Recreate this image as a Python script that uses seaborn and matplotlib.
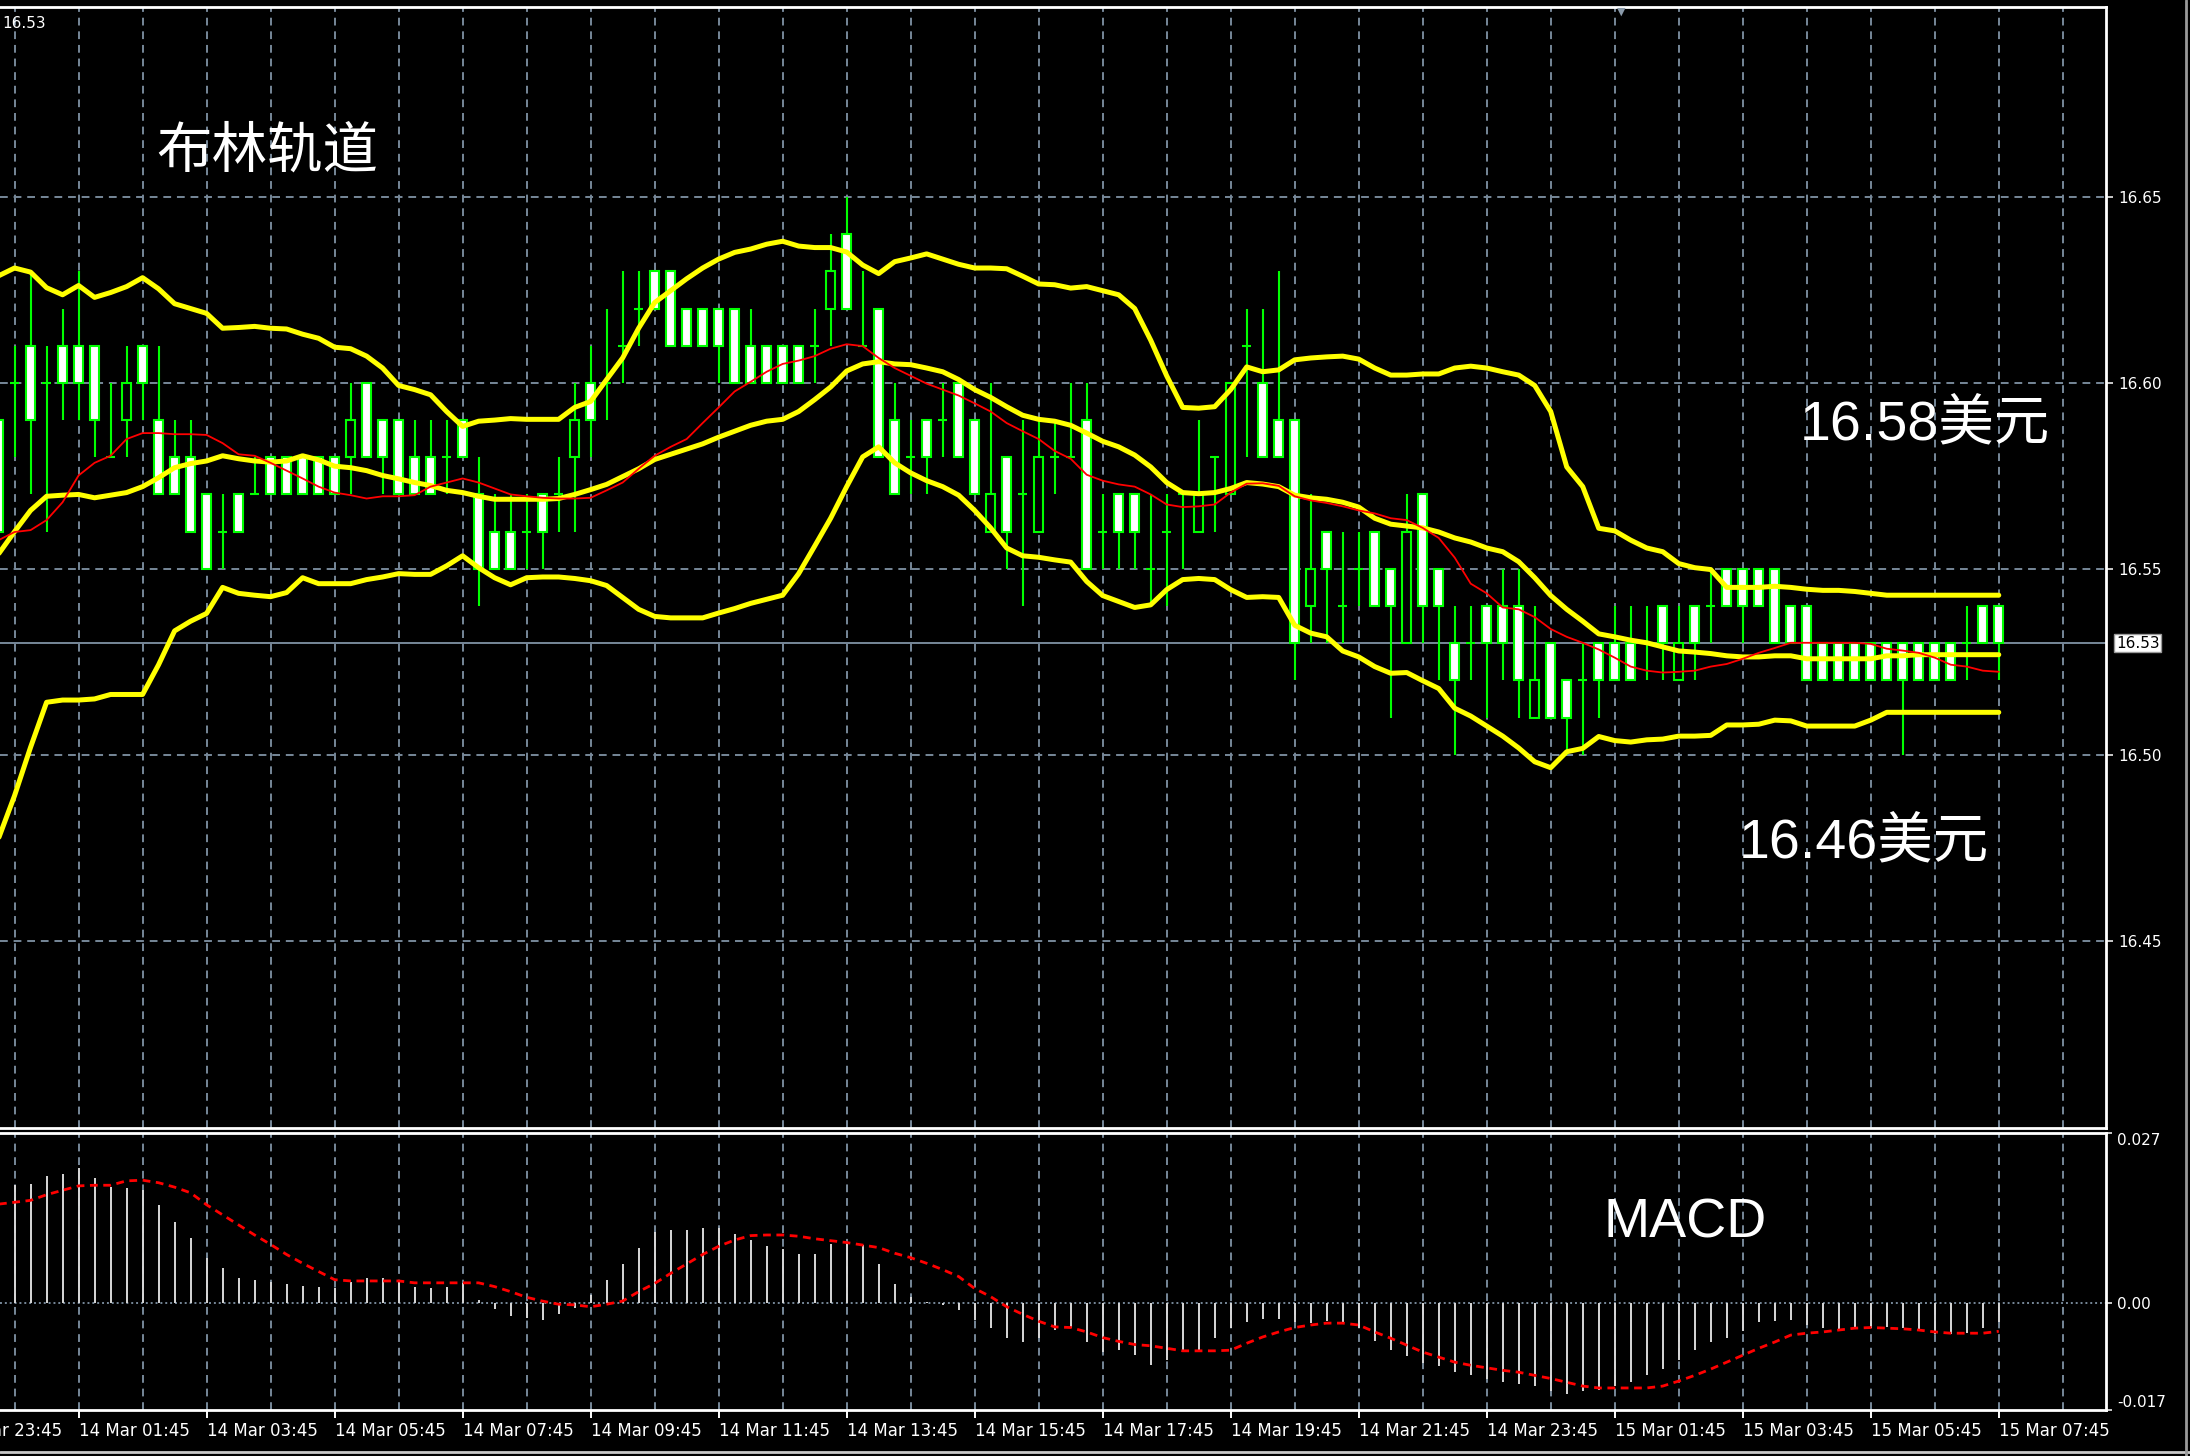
import numpy as np
import pandas as pd
import matplotlib
matplotlib.use("Agg")
import matplotlib.pyplot as plt
import matplotlib.transforms as mtrans
import seaborn as sns
from matplotlib import font_manager
from matplotlib.lines import Line2D

# bar index: 0 = 14 Mar 01:45, 15-minute bars
bar_index = list(range(-5, 121))

opens = [
    16.59, 16.60, 16.61, 16.60, 16.61, 16.61, 16.61, 16.58, 16.59, 16.61,
    16.59, 16.58, 16.58, 16.57, 16.56, 16.57, 16.57, 16.58, 16.58, 16.58,
    16.58, 16.58, 16.58, 16.60, 16.59, 16.59, 16.58, 16.58, 16.58, 16.59,
    16.57, 16.56, 16.56, 16.56, 16.57, 16.57, 16.58, 16.60, 16.60, 16.61,
    16.62, 16.63, 16.63, 16.62, 16.62, 16.62, 16.62, 16.61, 16.61, 16.61,
    16.61, 16.61, 16.62, 16.64, 16.61, 16.62, 16.59, 16.58, 16.59, 16.59,
    16.60, 16.59, 16.56, 16.58, 16.57, 16.56, 16.58, 16.58, 16.59, 16.56,
    16.57, 16.57, 16.55, 16.56, 16.57, 16.56, 16.58, 16.57, 16.61, 16.60,
    16.59, 16.59, 16.54, 16.56, 16.54, 16.55, 16.56, 16.55, 16.53, 16.57,
    16.55, 16.53, 16.53, 16.54, 16.54, 16.54, 16.51, 16.53, 16.52, 16.52,
    16.53, 16.53, 16.53, 16.53, 16.54, 16.52, 16.54, 16.54, 16.55, 16.55,
    16.55, 16.55, 16.54, 16.54, 16.53, 16.53, 16.53, 16.53, 16.53, 16.53,
    16.53, 16.53, 16.53, 16.53, 16.54, 16.54,
]
highs = [
    16.59, 16.61, 16.63, 16.61, 16.62, 16.63, 16.61, 16.60, 16.61, 16.61,
    16.61, 16.59, 16.59, 16.57, 16.57, 16.57, 16.58, 16.58, 16.58, 16.58,
    16.58, 16.58, 16.60, 16.60, 16.59, 16.59, 16.59, 16.59, 16.59, 16.59,
    16.58, 16.57, 16.57, 16.57, 16.57, 16.58, 16.60, 16.61, 16.62, 16.63,
    16.63, 16.63, 16.63, 16.62, 16.62, 16.62, 16.62, 16.62, 16.61, 16.61,
    16.61, 16.62, 16.64, 16.65, 16.63, 16.62, 16.60, 16.59, 16.59, 16.60,
    16.60, 16.59, 16.60, 16.58, 16.59, 16.59, 16.59, 16.60, 16.60, 16.57,
    16.57, 16.57, 16.57, 16.57, 16.57, 16.59, 16.58, 16.60, 16.62, 16.62,
    16.63, 16.59, 16.57, 16.56, 16.56, 16.56, 16.56, 16.55, 16.57, 16.57,
    16.55, 16.54, 16.54, 16.54, 16.55, 16.55, 16.54, 16.53, 16.52, 16.53,
    16.53, 16.54, 16.54, 16.54, 16.54, 16.54, 16.54, 16.55, 16.55, 16.55,
    16.55, 16.55, 16.54, 16.54, 16.53, 16.53, 16.53, 16.53, 16.53, 16.53,
    16.53, 16.53, 16.53, 16.54, 16.54, 16.54,
]
lows = [
    16.55, 16.58, 16.57, 16.56, 16.59, 16.59, 16.58, 16.58, 16.58, 16.59,
    16.57, 16.57, 16.56, 16.55, 16.55, 16.56, 16.57, 16.57, 16.57, 16.57,
    16.57, 16.57, 16.57, 16.58, 16.57, 16.57, 16.57, 16.57, 16.57, 16.58,
    16.54, 16.55, 16.55, 16.55, 16.55, 16.56, 16.56, 16.58, 16.59, 16.60,
    16.61, 16.62, 16.61, 16.61, 16.61, 16.60, 16.60, 16.60, 16.60, 16.60,
    16.60, 16.60, 16.61, 16.62, 16.61, 16.58, 16.57, 16.57, 16.57, 16.58,
    16.58, 16.57, 16.56, 16.55, 16.54, 16.56, 16.57, 16.58, 16.55, 16.55,
    16.55, 16.55, 16.54, 16.54, 16.55, 16.56, 16.56, 16.57, 16.58, 16.58,
    16.58, 16.52, 16.53, 16.53, 16.53, 16.54, 16.54, 16.51, 16.53, 16.53,
    16.52, 16.50, 16.52, 16.51, 16.52, 16.51, 16.51, 16.51, 16.50, 16.50,
    16.51, 16.52, 16.52, 16.52, 16.52, 16.52, 16.52, 16.53, 16.54, 16.53,
    16.54, 16.53, 16.53, 16.52, 16.52, 16.52, 16.52, 16.52, 16.52, 16.50,
    16.52, 16.52, 16.52, 16.52, 16.53, 16.52,
]
closes = [
    16.56, 16.60, 16.59, 16.60, 16.60, 16.60, 16.59, 16.58, 16.60, 16.60,
    16.57, 16.57, 16.56, 16.55, 16.56, 16.56, 16.57, 16.57, 16.57, 16.57,
    16.57, 16.57, 16.59, 16.58, 16.58, 16.57, 16.57, 16.57, 16.58, 16.58,
    16.55, 16.55, 16.55, 16.56, 16.56, 16.57, 16.59, 16.59, 16.60, 16.61,
    16.62, 16.62, 16.61, 16.61, 16.61, 16.61, 16.60, 16.60, 16.60, 16.60,
    16.60, 16.61, 16.63, 16.62, 16.61, 16.58, 16.57, 16.58, 16.58, 16.59,
    16.58, 16.57, 16.57, 16.56, 16.57, 16.58, 16.58, 16.58, 16.55, 16.56,
    16.56, 16.56, 16.55, 16.56, 16.57, 16.57, 16.58, 16.60, 16.61, 16.58,
    16.58, 16.53, 16.55, 16.55, 16.54, 16.55, 16.54, 16.54, 16.56, 16.54,
    16.54, 16.52, 16.53, 16.53, 16.53, 16.52, 16.52, 16.51, 16.51, 16.52,
    16.52, 16.52, 16.52, 16.53, 16.53, 16.53, 16.53, 16.54, 16.54, 16.54,
    16.54, 16.53, 16.53, 16.52, 16.52, 16.52, 16.52, 16.52, 16.52, 16.52,
    16.52, 16.52, 16.52, 16.53, 16.53, 16.53,
]

upper_band = [
    16.6288, 16.6309, 16.6298, 16.6256, 16.6237, 16.6262, 16.6230, 16.6243, 16.6259, 16.6283,
    16.6253, 16.6213, 16.6200, 16.6187, 16.6147, 16.6149, 16.6152, 16.6147, 16.6145, 16.6131,
    16.6120, 16.6096, 16.6092, 16.6072, 16.6040, 16.5993, 16.5982, 16.5968, 16.5923, 16.5883,
    16.5897, 16.5900, 16.5904, 16.5902, 16.5902, 16.5902, 16.5934, 16.5950, 16.6009, 16.6067,
    16.6147, 16.6216, 16.6248, 16.6280, 16.6309, 16.6333, 16.6351, 16.6360, 16.6373, 16.6381,
    16.6368, 16.6364, 16.6364, 16.6352, 16.6317, 16.6294, 16.6326, 16.6336, 16.6347, 16.6333,
    16.6319, 16.6309, 16.6309, 16.6307, 16.6287, 16.6266, 16.6264, 16.6255, 16.6259, 16.6248,
    16.6237, 16.6200, 16.6115, 16.6019, 16.5934, 16.5932, 16.5936, 16.5982, 16.6043, 16.6030,
    16.6035, 16.6062, 16.6067, 16.6070, 16.6072, 16.6064, 16.6040, 16.6021, 16.6021, 16.6024,
    16.6024, 16.6040, 16.6045, 16.6040, 16.6030, 16.6021, 16.5993, 16.5923, 16.5774, 16.5721,
    16.5609, 16.5602, 16.5577, 16.5556, 16.5546, 16.5514, 16.5503, 16.5498, 16.5450, 16.5450,
    16.5450, 16.5453, 16.5450, 16.5445, 16.5442, 16.5442, 16.5439, 16.5434, 16.5429, 16.5429,
    16.5429, 16.5429, 16.5429, 16.5429, 16.5429, 16.5429,
]
middle_band = [
    16.5540, 16.5600, 16.5657, 16.5695, 16.5698, 16.5700, 16.5691, 16.5698, 16.5705, 16.5721,
    16.5745, 16.5772, 16.5783, 16.5790, 16.5804, 16.5796, 16.5790, 16.5787, 16.5790, 16.5804,
    16.5793, 16.5776, 16.5772, 16.5764, 16.5751, 16.5742, 16.5732, 16.5724, 16.5711, 16.5705,
    16.5695, 16.5687, 16.5687, 16.5687, 16.5687, 16.5689, 16.5700, 16.5713, 16.5727, 16.5748,
    16.5769, 16.5794, 16.5808, 16.5822, 16.5836, 16.5854, 16.5870, 16.5886, 16.5897, 16.5902,
    16.5923, 16.5955, 16.5989, 16.6032, 16.6051, 16.6057, 16.6051, 16.6049, 16.6040, 16.6030,
    16.6009, 16.5982, 16.5961, 16.5936, 16.5913, 16.5902, 16.5897, 16.5886, 16.5865, 16.5843,
    16.5828, 16.5806, 16.5774, 16.5732, 16.5705, 16.5702, 16.5705, 16.5716, 16.5732, 16.5728,
    16.5721, 16.5698, 16.5691, 16.5687, 16.5679, 16.5666, 16.5636, 16.5620, 16.5615, 16.5610,
    16.5599, 16.5583, 16.5572, 16.5556, 16.5546, 16.5519, 16.5476, 16.5428, 16.5391, 16.5359,
    16.5325, 16.5317, 16.5308, 16.5301, 16.5290, 16.5279, 16.5276, 16.5272, 16.5266, 16.5263,
    16.5263, 16.5266, 16.5266, 16.5258, 16.5258, 16.5258, 16.5258, 16.5258, 16.5266, 16.5266,
    16.5269, 16.5269, 16.5269, 16.5269, 16.5269, 16.5269,
]
lower_band = [
    16.4775, 16.4890, 16.5020, 16.5141, 16.5147, 16.5147, 16.5150, 16.5162, 16.5162, 16.5162,
    16.5242, 16.5333, 16.5359, 16.5380, 16.5450, 16.5434, 16.5429, 16.5425, 16.5436, 16.5476,
    16.5460, 16.5460, 16.5460, 16.5471, 16.5478, 16.5487, 16.5485, 16.5485, 16.5508, 16.5535,
    16.5503, 16.5476, 16.5457, 16.5476, 16.5478, 16.5478, 16.5474, 16.5468, 16.5455, 16.5423,
    16.5391, 16.5372, 16.5368, 16.5368, 16.5368, 16.5381, 16.5393, 16.5407, 16.5418, 16.5429,
    16.5487, 16.5561, 16.5636, 16.5721, 16.5801, 16.5828, 16.5785, 16.5758, 16.5737, 16.5721,
    16.5698, 16.5657, 16.5610, 16.5556, 16.5535, 16.5531, 16.5524, 16.5518, 16.5466, 16.5428,
    16.5412, 16.5396, 16.5403, 16.5444, 16.5471, 16.5474, 16.5471, 16.5444, 16.5423, 16.5425,
    16.5423, 16.5348, 16.5327, 16.5317, 16.5279, 16.5263, 16.5237, 16.5219, 16.5221, 16.5199,
    16.5178, 16.5125, 16.5104, 16.5077, 16.5050, 16.5018, 16.4981, 16.4965, 16.5008, 16.5017,
    16.5049, 16.5038, 16.5034, 16.5040, 16.5042, 16.5050, 16.5050, 16.5052, 16.5080, 16.5080,
    16.5082, 16.5093, 16.5091, 16.5077, 16.5077, 16.5077, 16.5077, 16.5093, 16.5114, 16.5114,
    16.5114, 16.5114, 16.5114, 16.5114, 16.5114, 16.5114,
]
ma_line = [
    16.5577, 16.5599, 16.5604, 16.5631, 16.5679, 16.5751, 16.5785, 16.5804, 16.5849, 16.5865,
    16.5865, 16.5862, 16.5862, 16.5860, 16.5838, 16.5808, 16.5804, 16.5785, 16.5764, 16.5743,
    16.5721, 16.5705, 16.5698, 16.5689, 16.5695, 16.5695, 16.5698, 16.5721, 16.5732, 16.5743,
    16.5732, 16.5716, 16.5700, 16.5695, 16.5691, 16.5689, 16.5689, 16.5691, 16.5711, 16.5732,
    16.5769, 16.5804, 16.5828, 16.5849, 16.5892, 16.5934, 16.5977, 16.6003, 16.6030, 16.6051,
    16.6060, 16.6072, 16.6092, 16.6104, 16.6099, 16.6067, 16.6040, 16.6019, 16.5998, 16.5982,
    16.5966, 16.5945, 16.5923, 16.5892, 16.5870, 16.5849, 16.5817, 16.5796, 16.5753, 16.5737,
    16.5727, 16.5721, 16.5700, 16.5673, 16.5666, 16.5668, 16.5673, 16.5705, 16.5729, 16.5730,
    16.5723, 16.5695, 16.5684, 16.5677, 16.5668, 16.5657, 16.5649, 16.5636, 16.5631, 16.5610,
    16.5583, 16.5530, 16.5460, 16.5434, 16.5396, 16.5391, 16.5370, 16.5338, 16.5317, 16.5301,
    16.5283, 16.5261, 16.5237, 16.5226, 16.5221, 16.5223, 16.5226, 16.5237, 16.5244, 16.5258,
    16.5274, 16.5287, 16.5301, 16.5301, 16.5301, 16.5301, 16.5301, 16.5298, 16.5285, 16.5280,
    16.5274, 16.5261, 16.5242, 16.5237, 16.5226, 16.5223,
]

macd_hist = [
    0.0186, 0.0187, 0.0189, 0.0202, 0.0205, 0.0214, 0.0199, 0.0184, 0.0183, 0.0180,
    0.0155, 0.0129, 0.0103, 0.0072, 0.0055, 0.0039, 0.0037, 0.0034, 0.0030, 0.0027,
    0.0026, 0.0023, 0.0033, 0.0039, 0.0039, 0.0036, 0.0026, 0.0023, 0.0026, 0.0031,
    0.0005, -0.0009, -0.0020, -0.0024, -0.0027, -0.0018, -0.0008, 0.0012, 0.0037, 0.0062,
    0.0087, 0.0113, 0.0116, 0.0116, 0.0119, 0.0119, 0.0110, 0.0100, 0.0091, 0.0085,
    0.0078, 0.0078, 0.0094, 0.0097, 0.0092, 0.0062, 0.0030, 0.0010, 0.0002, -0.0004,
    -0.0011, -0.0027, -0.0040, -0.0055, -0.0062, -0.0056, -0.0043, -0.0040, -0.0062, -0.0078,
    -0.0075, -0.0082, -0.0099, -0.0091, -0.0078, -0.0075, -0.0056, -0.0040, -0.0030, -0.0025,
    -0.0025, -0.0030, -0.0032, -0.0028, -0.0030, -0.0040, -0.0060, -0.0075, -0.0085, -0.0095,
    -0.0100, -0.0110, -0.0115, -0.0120, -0.0125, -0.0128, -0.0132, -0.0140, -0.0145, -0.0140,
    -0.0138, -0.0132, -0.0125, -0.0115, -0.0105, -0.0090, -0.0075, -0.0062, -0.0055, -0.0045,
    -0.0030, -0.0028, -0.0027, -0.0035, -0.0040, -0.0045, -0.0042, -0.0040, -0.0038, -0.0040,
    -0.0045, -0.0050, -0.0050, -0.0048, -0.0040, -0.0030,
]
macd_signal = [
    0.0157, 0.0160, 0.0163, 0.0172, 0.0179, 0.0186, 0.0187, 0.0187, 0.0194, 0.0195,
    0.0191, 0.0184, 0.0175, 0.0156, 0.0140, 0.0124, 0.0108, 0.0093, 0.0077, 0.0063,
    0.0050, 0.0037, 0.0035, 0.0035, 0.0035, 0.0035, 0.0032, 0.0032, 0.0032, 0.0032,
    0.0032, 0.0026, 0.0018, 0.0009, 0.0003, -0.0002, -0.0003, -0.0006, -0.0002, 0.0003,
    0.0018, 0.0031, 0.0047, 0.0062, 0.0077, 0.0090, 0.0100, 0.0107, 0.0108, 0.0108,
    0.0106, 0.0102, 0.0099, 0.0096, 0.0092, 0.0088, 0.0079, 0.0072, 0.0063, 0.0053,
    0.0042, 0.0023, 0.0010, -0.0006, -0.0018, -0.0029, -0.0038, -0.0039, -0.0046, -0.0055,
    -0.0061, -0.0066, -0.0068, -0.0072, -0.0076, -0.0076, -0.0076, -0.0075, -0.0064, -0.0054,
    -0.0046, -0.0039, -0.0035, -0.0032, -0.0032, -0.0035, -0.0046, -0.0056, -0.0067, -0.0078,
    -0.0086, -0.0094, -0.0099, -0.0103, -0.0107, -0.0110, -0.0115, -0.0120, -0.0126, -0.0132,
    -0.0135, -0.0135, -0.0135, -0.0135, -0.0132, -0.0124, -0.0115, -0.0105, -0.0094, -0.0083,
    -0.0072, -0.0062, -0.0051, -0.0048, -0.0046, -0.0043, -0.0040, -0.0039, -0.0040, -0.0041,
    -0.0043, -0.0046, -0.0048, -0.0048, -0.0048, -0.0045,
]

price_ticks = [16.45, 16.50, 16.55, 16.60, 16.65]
macd_ticks = [-0.017, 0.0, 0.027]
macd_tick_labels = ["-0.017", "0.00", "0.027"]
time_ticks = [0, 8, 16, 24, 32, 40, 48, 56, 64, 72, 80, 88, 96, 104, 112, 120]
time_labels = [
    "14 Mar 01:45", "14 Mar 03:45", "14 Mar 05:45", "14 Mar 07:45",
    "14 Mar 09:45", "14 Mar 11:45", "14 Mar 13:45", "14 Mar 15:45",
    "14 Mar 17:45", "14 Mar 19:45", "14 Mar 21:45", "14 Mar 23:45",
    "15 Mar 01:45", "15 Mar 03:45", "15 Mar 05:45", "15 Mar 07:45",
]
first_label = "13 Mar 23:45"

LIME = "#00ff00"
GRID = "#778899"
YELLOW = "#ffff00"

sns.set_theme(style="dark", rc={"axes.facecolor": "black", "figure.facecolor": "black"})
installed = {f.name for f in font_manager.fontManager.ttflist}
narrow = "Liberation Sans Narrow" in installed
tick_font = "Liberation Sans Narrow" if narrow else "DejaVu Sans"
tick_size = 14 if narrow else 11
time_size = 15 if narrow else 12
plt.rcParams["font.family"] = [tick_font, "DejaVu Sans"]

W, H = 2190, 1456
fig = plt.figure(figsize=(W / 100, H / 100), dpi=100)
fig.patch.set_facecolor("black")


def fx(px):
    return px / W


def fy(py):
    return 1 - py / H


ax1 = fig.add_axes([0, fy(1128), fx(2106), (1128 - 7) / H])
ax2 = fig.add_axes([0, fy(1410), fx(2106), (1410 - 1133) / H])

# ---- price panel ----
ax1.axhline(closes[-1], color=GRID, lw=1.4, zorder=1)
ax1.vlines(bar_index, lows, highs, color=LIME, lw=1.5, zorder=2)
o = np.array(opens)
c = np.array(closes)
fills = ["white" if cc < oo else "black" for oo, cc in zip(opens, closes)]
ax1.bar(bar_index, np.abs(c - o), bottom=np.minimum(o, c), width=0.55,
        color=fills, edgecolor=LIME, linewidth=1.5, zorder=3)

bands = pd.DataFrame({"bar": bar_index, "upper": upper_band,
                      "middle": middle_band, "lower": lower_band})
bands = bands.melt(id_vars="bar", var_name="band", value_name="price")
sns.lineplot(data=bands, x="bar", y="price", units="band", estimator=None,
             color=YELLOW, linewidth=3.6, ax=ax1, zorder=4, sort=False)
sns.lineplot(x=bar_index, y=ma_line, color="#ff0000", linewidth=1.3, ax=ax1, zorder=5)

ax1.set_xlim(-4.91, 126.7)
ax1.set_ylim(16.3996, 16.7011)
ax1.set_xticks(np.arange(-4, 127, 4))
ax1.set_yticks(price_ticks)
ax1.set_yticklabels([f"{v:.2f}" for v in price_ticks])
ax1.grid(True, color=GRID, linestyle=(0, (4, 3)), linewidth=1.4, zorder=0)
ax1.set_axisbelow(True)
ax1.tick_params(axis="x", length=0, bottom=False, labelbottom=False)
ax1.tick_params(axis="y", left=False, labelleft=False, right=True, labelright=True,
                length=5, width=1.4, color="#c8c8c8", pad=4,
                labelsize=tick_size, labelcolor="white")
ax1.set_xlabel("")
ax1.set_ylabel("")

ax1.text(2116 / 2106, closes[-1], f"{closes[-1]:.2f}", transform=ax1.get_yaxis_transform(),
         ha="left", va="center", color="black", fontsize=tick_size, clip_on=False,
         bbox=dict(facecolor="white", edgecolor="#999999", boxstyle="square,pad=0.12"))

# ---- MACD panel ----
ax2.axhline(0, color=GRID, lw=1.4, linestyle=(0, (1, 1.5)), zorder=1)
ax2.vlines(bar_index, 0, macd_hist, color="#d8d8d8", lw=1.4, zorder=2)
sns.lineplot(x=bar_index, y=macd_signal, color="#ff0000", linewidth=2, ax=ax2, zorder=3)
ax2.lines[-1].set_dashes([2.8, 2])

ax2.set_xlim(-4.91, 126.7)
ax2.set_ylim(-0.017, 0.027)
ax2.set_xticks(time_ticks)
ax2.set_xticklabels(time_labels)
ax2.set_xticks(np.arange(-4, 127, 8), minor=True)
ax2.set_yticks(macd_ticks)
ax2.set_yticklabels(macd_tick_labels)
ax2.xaxis.grid(True, which="both", color=GRID, linestyle=(0, (4, 3)), linewidth=1.4)
ax2.yaxis.grid(False)
ax2.set_axisbelow(True)
ax2.tick_params(axis="x", which="major", bottom=True, length=6, width=1.4, color="white",
                labelsize=time_size, labelcolor="white", pad=3)
ax2.tick_params(axis="x", which="minor", bottom=False, length=0)
ax2.tick_params(axis="y", left=False, labelleft=False, right=True, labelright=True,
                length=4, width=1.4, color="#c8c8c8", pad=4,
                labelsize=tick_size, labelcolor="white")
for lab in ax2.get_xticklabels():
    lab.set_ha("left")
ylabs = ax2.get_yticklabels()
ylabs[0].set_va("bottom")
ylabs[-1].set_va("top")
ax2.set_xlabel("")
ax2.set_ylabel("")

# the label of the tick just left of the view, cut by the figure edge as in MT4
shift = mtrans.ScaledTranslation(0, -9 / 72, fig.dpi_scale_trans)
ax2.text(-8, 0, first_label, color="white", fontsize=time_size, ha="left", va="top",
         transform=mtrans.blended_transform_factory(ax2.transData, ax2.transAxes) + shift,
         clip_on=False)

for ax in (ax1, ax2):
    ax.set_facecolor("black")
    ax.spines["left"].set_visible(False)
    for side in ("top", "right", "bottom"):
        ax.spines[side].set_color("white")
        ax.spines[side].set_linewidth(2)

# ---- annotations ----
fig.text(fx(2), fy(23), "16.53", color="white", fontsize=tick_size, ha="left", va="center")
fig.text(fx(1621), fy(12), "\u25bc", color="#8a9aaa", fontsize=8, ha="center", va="center",
         family="DejaVu Sans")
fig.text(fx(156), fy(152), "布林轨道", color="white", fontsize=40, ha="left", va="center",
         family=["Noto Sans CJK SC", "DejaVu Sans"])
fig.text(fx(1800), fy(425), "16.58美元", color="white", fontsize=40, ha="left", va="center",
         family=["Liberation Sans", "Noto Sans CJK SC"])
fig.text(fx(1739), fy(843), "16.46美元", color="white", fontsize=40, ha="left", va="center",
         family=["Liberation Sans", "Noto Sans CJK SC"])
fig.text(fx(1604), fy(1224), "MACD", color="white", fontsize=40, ha="left", va="center",
         family=["Liberation Sans", "DejaVu Sans"])

fig.add_artist(Line2D([0, 1], [fy(1452), fy(1452)], color="#c8c8c8", lw=2))
fig.add_artist(Line2D([fx(2186), fx(2186)], [0, 1], color="#9a9a9a", lw=2))

fig.savefig("out.png", dpi=100, facecolor="black")
